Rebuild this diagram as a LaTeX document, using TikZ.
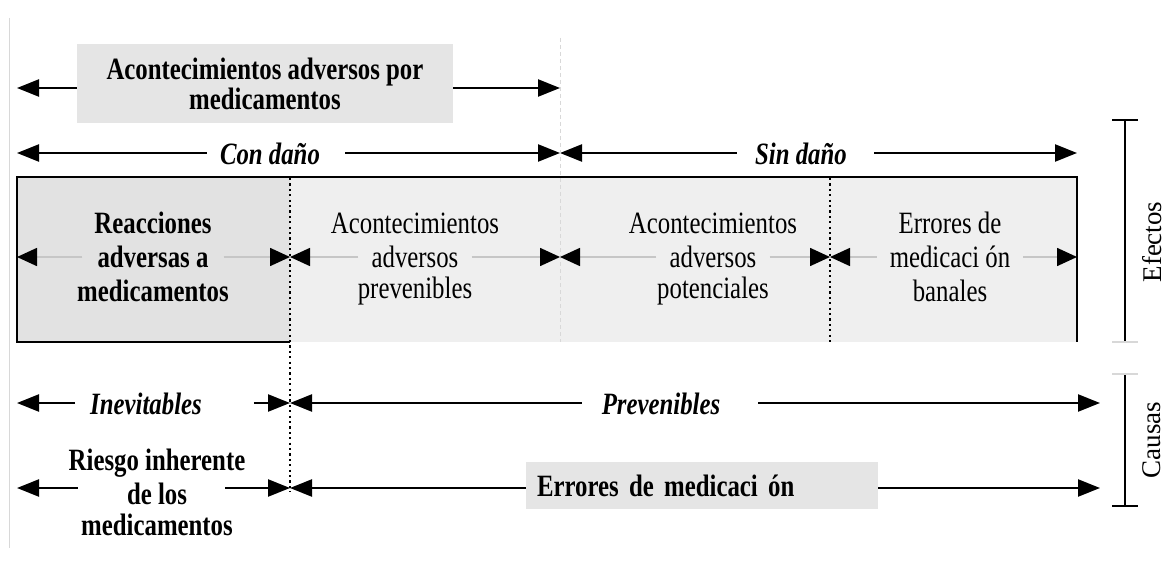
\documentclass[tikz,border=0pt]{standalone}
\usepackage{fontspec}
\setmainfont{Liberation Serif}[FakeStretch=0.8]
\newfontfamily\plainserif{Liberation Serif}
\usetikzlibrary{arrows.meta}
\definecolor{boxgray}{HTML}{E2E2E2}
\definecolor{lightfill}{HTML}{EFEFEF}
\definecolor{glinec}{HTML}{C6C6C6}
\definecolor{tagfill}{HTML}{E5E5E5}
\definecolor{edgegray}{HTML}{D8D8D8}
\begin{document}
\begin{tikzpicture}[x=1pt,y=-1pt,
  blk/.style={draw=black, line width=2.4pt, -{Triangle[length=22pt,width=17pt]}},
  gry/.style={draw=glinec, line width=1.6pt, -{Triangle[length=20pt,width=18pt,color=black]}},
  txt/.style={font=\fontsize{31}{34}\selectfont, align=center, inner sep=0pt},
  btxt/.style={txt, font=\fontsize{31}{30}\selectfont\bfseries},
  itxt/.style={txt, font=\fontsize{31}{30}\selectfont\bfseries\itshape},
  tagbox/.style={fill=tagfill, inner sep=0pt, align=center},
  brk/.style={draw=black, line width=2.2pt},
  side/.style={font=\plainserif\fontsize{27}{30}\selectfont, inner sep=0pt, rotate=90}
]
\useasboundingbox (0,0) rectangle (1172,564);
\fill[white] (0,0) rectangle (1172,564);
\draw[edgegray, line width=1pt] (9,18) -- (9,548);

% ---- top: acontecimientos adversos por medicamentos
\node[tagbox, minimum width=376pt, minimum height=79pt, font=\fontsize{31}{30}\selectfont\bfseries] (adm) at (265,83.5) {Acontecimientos adversos por\\medicamentos};
\coordinate (admL) at (17,88);
\coordinate (admR) at (560,88);
\draw[blk] (adm.west |- admL) -- (admL);
\draw[blk] (adm.east |- admR) -- (admR);

% ---- con / sin danno
\node[itxt] (con) at (270,154) {Con daño};
\coordinate (conL) at (17,153);
\coordinate (conR) at (560,153);
\draw[blk] ([xshift=-13pt]con.west |- conL) -- (conL);
\draw[blk] ([xshift=25pt]con.east |- conR) -- (conR);

\node[itxt] (sin) at (801,154) {Sin daño};
\coordinate (sinL) at (560,153);
\coordinate (sinR) at (1077,153);
\draw[blk] ([xshift=-18pt]sin.west |- sinL) -- (sinL);
\draw[blk] ([xshift=27pt]sin.east |- sinR) -- (sinR);

% ---- main box
\fill[boxgray] (17,177) rectangle (290,342);
\fill[lightfill] (290,177) rectangle (1077,342);
\draw[edgegray, line width=0.8pt, dash pattern=on 4pt off 3pt] (560,38) -- (560,342);
\draw[black, line width=2.6pt, line join=miter] (290,342) -- (17,342) -- (17,177) -- (1077,177) -- (1077,342);
\draw[black, line width=2.2pt, dash pattern=on 2.2pt off 3.2pt] (290,178) -- (290,492);
\draw[black, line width=2.2pt, dash pattern=on 2.2pt off 3.2pt] (830,178) -- (830,342);

\coordinate (s0) at (17,257);
\coordinate (s1) at (290,257);
\coordinate (s2) at (560,257);
\coordinate (s3) at (830,257);
\coordinate (s4) at (1077,257);

% segment 1
\node[btxt] (t1a) at (153,223) {Reacciones};
\node[btxt, inner xsep=15pt] (t1) at (153,257) {adversas a};
\node[btxt] (t1c) at (153,291) {medicamentos};
\draw[gry] (t1.west |- s0) -- (s0);
\draw[gry] (t1.east |- s1) -- (s1);

% segment 2
\node[txt] (t2a) at (415,223) {Acontecimientos};
\node[txt, inner xsep=13pt] (t2) at (415,257) {adversos};
\node[txt] (t2c) at (415,291) {prevenibles};
\draw[gry] (t2.west |- s1) -- (s1);
\draw[gry] (t2.east |- s2) -- (s2);

% segment 3
\node[txt] (t3a) at (713,223) {Acontecimientos};
\node[txt, inner xsep=13pt] (t3) at (713,257) {adversos};
\node[txt] (t3c) at (713,291) {potenciales};
\draw[gry] (t3.west |- s2) -- (s2);
\draw[gry] (t3.east |- s3) -- (s3);

% segment 4
\node[txt] (t4a) at (950,223) {Errores de};
\node[txt, inner xsep=13pt] (t4) at (950,257) {medicaci ón};
\node[txt] (t4c) at (950,291) {banales};
\draw[gry] (t4.west |- s3) -- (s3);
\draw[gry] (t4.east |- s4) -- (s4);

% ---- efectos bracket
\coordinate (efT) at (1125,120);
\coordinate (efB) at (1125,342);
\draw[brk] (efT) -- (efB);
\draw[brk] ([xshift=-13pt]efT) -- ([xshift=13pt]efT);
\draw[edgegray, line width=1.5pt] ([xshift=-13pt]efB) -- ([xshift=13pt]efB);
\node[side] (efectos) at (1152,242) {Efectos};

% ---- inevitables / prevenibles
\node[itxt] (inev) at (146,404) {Inevitables};
\coordinate (inL) at (17,403);
\coordinate (inR) at (290,403);
\draw[blk] ([xshift=-15pt]inev.west |- inL) -- (inL);
\draw[blk] ([xshift=52pt]inev.east |- inR) -- (inR);

\node[itxt] (prev) at (661,404) {Prevenibles};
\coordinate (pvL) at (290,403);
\coordinate (pvR) at (1100,403);
\draw[blk] ([xshift=-20pt]prev.west |- pvL) -- (pvL);
\draw[blk] ([xshift=38pt]prev.east |- pvR) -- (pvR);

% ---- riesgo / errores
\node[btxt] (r1) at (157,463) {Riesgo inherente};
\node[btxt, inner xsep=0pt] (rie) at (157,494) {de los};
\node[btxt] (r3) at (157,525) {medicamentos};
\coordinate (riL) at (17,488);
\coordinate (riR) at (290,488);
\draw[blk] ([xshift=-49pt]rie.west |- riL) -- (riL);
\draw[blk] ([xshift=38pt]rie.east |- riR) -- (riR);

\node[tagbox, minimum width=352pt, minimum height=47pt, font=\fontsize{31}{30}\selectfont\bfseries, text width=330pt, align=left] (err) at (702,485.5) {Errores de medicaci ón};
\coordinate (erL) at (290,488);
\coordinate (erR) at (1100,488);
\draw[blk] (err.west |- erL) -- (erL);
\draw[blk] (err.east |- erR) -- (erR);

% ---- causas bracket
\coordinate (caT) at (1125,374);
\coordinate (caB) at (1125,506);
\draw[brk] (caT) -- (caB);
\draw[edgegray, line width=1.5pt] ([xshift=-13pt]caT) -- ([xshift=13pt]caT);
\draw[brk] ([xshift=-13pt]caB) -- ([xshift=13pt]caB);
\node[side] (causas) at (1152,440) {Causas};
\end{tikzpicture}
\end{document}
